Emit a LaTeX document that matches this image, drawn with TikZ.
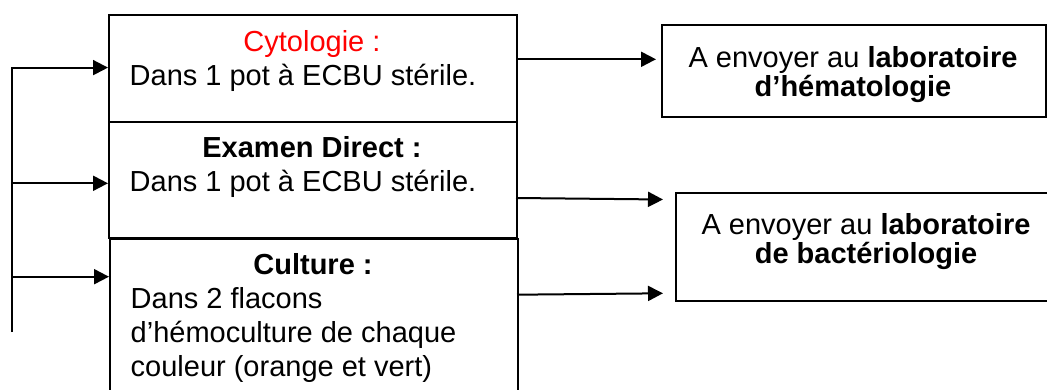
\documentclass[tikz,border=0pt]{standalone}
\usepackage{fontspec}
\setmainfont{Liberation Sans}
\usetikzlibrary{arrows.meta}
\begin{document}
\begin{tikzpicture}[x=1pt,y=-1pt,
  box/.style={draw, line width=2pt, rectangle, inner sep=0pt, anchor=north west},
  txt/.style={inner sep=0pt, anchor=base, font=\fontsize{29}{34}\selectfont},
  ltxt/.style={txt, anchor=base west},
  conn/.style={line width=2pt, -{Triangle[length=15pt,width=15pt]}},
  ]
\useasboundingbox (0,0) rectangle (1047,390);
\clip (0,0) rectangle (1047,390);
\fill[white] (0,0) rectangle (1047,390);

% left boxes
\node[box, minimum width=408pt, minimum height=107pt] (b1) at (108,14) {};
\node[box, minimum width=408pt, minimum height=116.5pt] (b2) at (108,121) {};
\node[box, minimum width=408pt, minimum height=170pt] (b3) at (109,238) {};
% right boxes
\node[box, minimum width=384pt, minimum height=92pt] (r1) at (661,24) {};
\node[box, minimum width=382pt, minimum height=108pt] (r2) at (675,192) {};

% texts left
\node[txt, text=red] (t1a) at (312,51.7) {Cytologie :};
\node[ltxt] (t1b) at (129.5,85.5) {Dans 1 pot à ECBU stérile.};
\node[txt] (t2a) at (312,157.8) {\bfseries Examen Direct :};
\node[ltxt] (t2b) at (129.5,192) {Dans 1 pot à ECBU stérile.};
\node[txt] (t3a) at (313,274.3) {\bfseries Culture :};
\node[ltxt] (t3b) at (130.5,308.3) {Dans 2 flacons};
\node[ltxt] (t3c) at (130.5,342) {d’hémoculture de chaque};
\node[ltxt] (t3d) at (130.5,376) {couleur (orange et vert)};

% texts right
\node[txt] (u1a) at (853,68) {A envoyer au \textbf{laboratoire}};
\node[txt] (u1b) at (853,96.7) {\bfseries d’hématologie};
\node[txt] (u2a) at (866,235) {A envoyer au \textbf{laboratoire}};
\node[txt] (u2b) at (866,263.5) {\bfseries de bactériologie};

% left trunk and arrows
\coordinate (tb) at (12,332);
\coordinate (j1) at (12,67.6);
\coordinate (j2) at (12,183.3);
\coordinate (j3) at (12,276.7);
\draw[conn] (tb) -- (j1) -- (j1 -| b1.west);
\draw[conn] (j2) -- (j2 -| b2.west);
\draw[conn] (j3) -- (j3 -| b3.west);

% right arrows
\coordinate (s1) at (516,59.3);
\coordinate (e1) at (656,59.3);
\coordinate (s2) at (516,198);
\coordinate (e2) at (663,199.5);
\coordinate (s3) at (517,294.7);
\coordinate (e3) at (663,293.3);
\draw[conn] (s1) -- (e1);
\draw[conn] (s2) -- (e2);
\draw[conn] (s3) -- (e3);
\end{tikzpicture}
\end{document}
